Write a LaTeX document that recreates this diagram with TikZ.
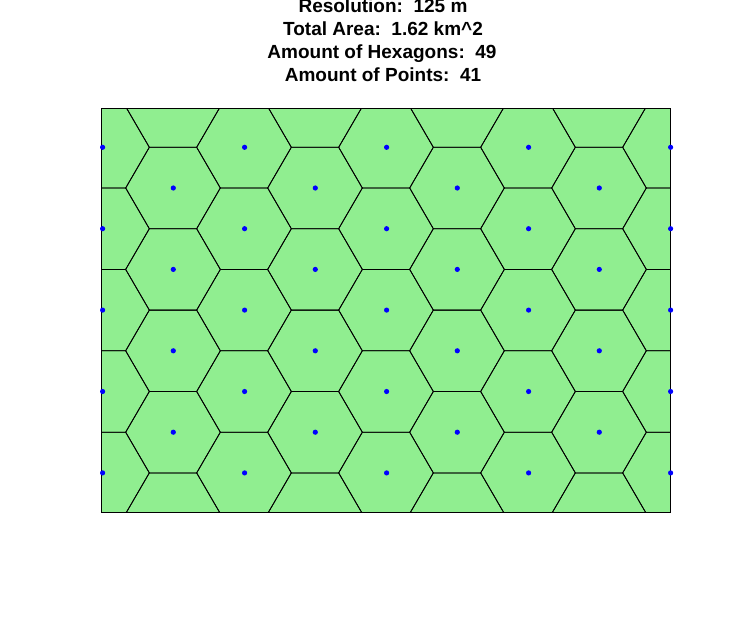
\documentclass[tikz,border=0pt]{standalone}
\usepackage{fontspec}
\setmainfont{Liberation Sans}
\definecolor{hexgreen}{RGB}{144,238,144}
\definecolor{ptblue}{RGB}{0,0,255}
\begin{document}
\begin{tikzpicture}[x=1pt,y=-1pt,
  hexedge/.style={draw=black,line width=0.8pt},
  dotmark/.style={fill=ptblue},
  frame/.style={draw=black,line width=1pt},
  titletext/.style={font=\fontsize{19}{23}\selectfont\bfseries,anchor=base,inner sep=0pt},
  hexcell/.pic={\draw[hexedge] (-47.33,0) -- (-23.67,-40.7) -- (23.67,-40.7) -- (47.33,0) -- (23.67,40.7) -- (-23.67,40.7) -- cycle;}]
\useasboundingbox (0,0) rectangle (734,640);
\fill[white] (0,0) rectangle (734,640);
\fill[hexgreen] (101.5,108.3) rectangle (670.3,512.2);
\begin{scope}
\clip (101.5,108.3) rectangle (670.3,512.2);
\foreach \k in {0,2,4,6,8} {
  \foreach \j in {0,...,4} {
    \pic at ({102+71*\k},{147.3+81.4*\j}) {hexcell};
  }
}
\foreach \k in {1,3,5,7} {
  \foreach \j in {0,...,5} {
    \pic at ({102+71*\k},{106.6+81.4*\j}) {hexcell};
  }
}
\end{scope}
\draw[frame] (101.5,108.3) rectangle (670.3,512.2);
\foreach \k in {0,2,4,6,8} {
  \foreach \j in {0,...,4} {
    \fill[dotmark] ({102.6+71*\k},{147.3+81.4*\j}) circle (2.6);
  }
}
\foreach \k in {1,3,5,7} {
  \foreach \j in {1,...,4} {
    \fill[dotmark] ({102.3+71*\k},{106.6+81.4*\j}) circle (2.6);
  }
}
\node[titletext] (t1) at (383,12) {Resolution:\ \ 125 m};
\node[titletext] (t2) at (383,35.2) {Total Area:\ \ 1.62 km\^{}2};
\node[titletext] (t3) at (382,58.4) {Amount of Hexagons:\ \ 49};
\node[titletext] (t4) at (383,81.6) {Amount of Points:\ \ 41};
\end{tikzpicture}
\end{document}
